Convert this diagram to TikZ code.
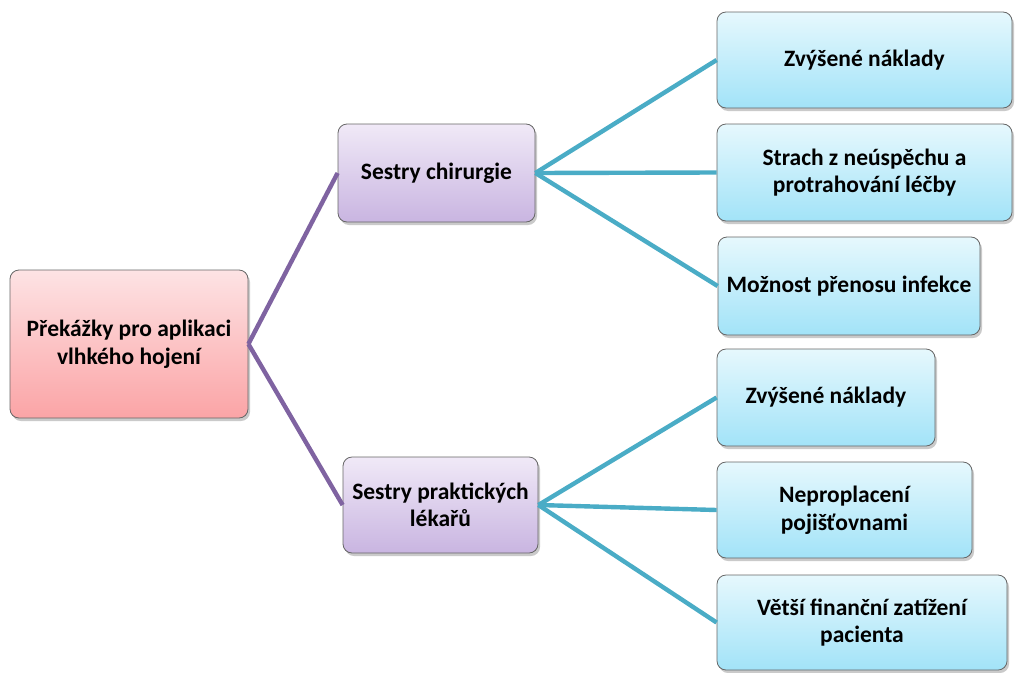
\documentclass[tikz,border=0pt]{standalone}
\usepackage{fontspec}
\setmainfont{Carlito}
\usetikzlibrary{shadows}
\definecolor{rootTop}{HTML}{FDE3E4}
\definecolor{rootBot}{HTML}{FBA4A6}
\definecolor{midTop}{HTML}{F0E9F7}
\definecolor{midBot}{HTML}{C9B5E1}
\definecolor{leafTop}{HTML}{E6F8FD}
\definecolor{leafBot}{HTML}{A2E3F8}
\definecolor{purpleLine}{HTML}{7F63A1}
\definecolor{tealLine}{HTML}{4AACC6}
\begin{document}
\begin{tikzpicture}[x=1pt,y=-1pt,
  box/.style={draw=gray!80!black, line width=0.8pt, rounded corners=9pt,
    align=center, font=\bfseries\fontsize{23.5}{27.5}\selectfont, inner sep=2pt,
    drop shadow={shadow xshift=2pt, shadow yshift=-3pt, opacity=0.35, fill=black!60}},
  rootbox/.style={box, top color=rootTop, bottom color=rootBot},
  midbox/.style={box, top color=midTop, bottom color=midBot},
  leafbox/.style={box, top color=leafTop, bottom color=leafBot},
  purplelink/.style={draw=purpleLine, line width=4.4pt},
  teallink/.style={draw=tealLine, line width=4.4pt}]
\useasboundingbox (0,0) rectangle (1017,672);

\node[rootbox, minimum width=238pt, minimum height=148pt] (root) at (129,344)
  {Překážky pro aplikaci\\vlhkého hojení};

\node[midbox, minimum width=197pt, minimum height=98pt] (m1) at (436.5,173)
  {Sestry chirurgie};
\node[midbox, minimum width=195pt, minimum height=96pt] (m2) at (440.5,505)
  {Sestry praktických\\lékařů};

\node[leafbox, minimum width=295pt, minimum height=96pt] (l1) at (864.5,60)
  {Zvýšené náklady};
\node[leafbox, minimum width=295pt, minimum height=97pt] (l2) at (864.5,172.5)
  {Strach z neúspěchu a\\protrahování léčby};
\node[leafbox, minimum width=262pt, minimum height=98pt] (l3) at (849,286)
  {Možnost přenosu infekce};
\node[leafbox, minimum width=218pt, minimum height=97pt] (l4) at (826,397.5)
  {Zvýšené náklady};
\node[leafbox, minimum width=255pt, minimum height=96pt] (l5) at (844.5,510)
  {Neproplacení\\pojišťovnami};
\node[leafbox, minimum width=290pt, minimum height=95pt] (l6) at (862,622.5)
  {Větší finanční zatížení\\pacienta};

\path[purplelink] (root.east) -- (m1.west);
\path[purplelink] (root.east) -- (m2.west);
\path[teallink] (m1.east) -- (l1.west);
\path[teallink] (m1.east) -- (l2.west);
\path[teallink] (m1.east) -- (l3.west);
\path[teallink] (m2.east) -- (l4.west);
\path[teallink] (m2.east) -- (l5.west);
\path[teallink] (m2.east) -- (l6.west);
\end{tikzpicture}
\end{document}
